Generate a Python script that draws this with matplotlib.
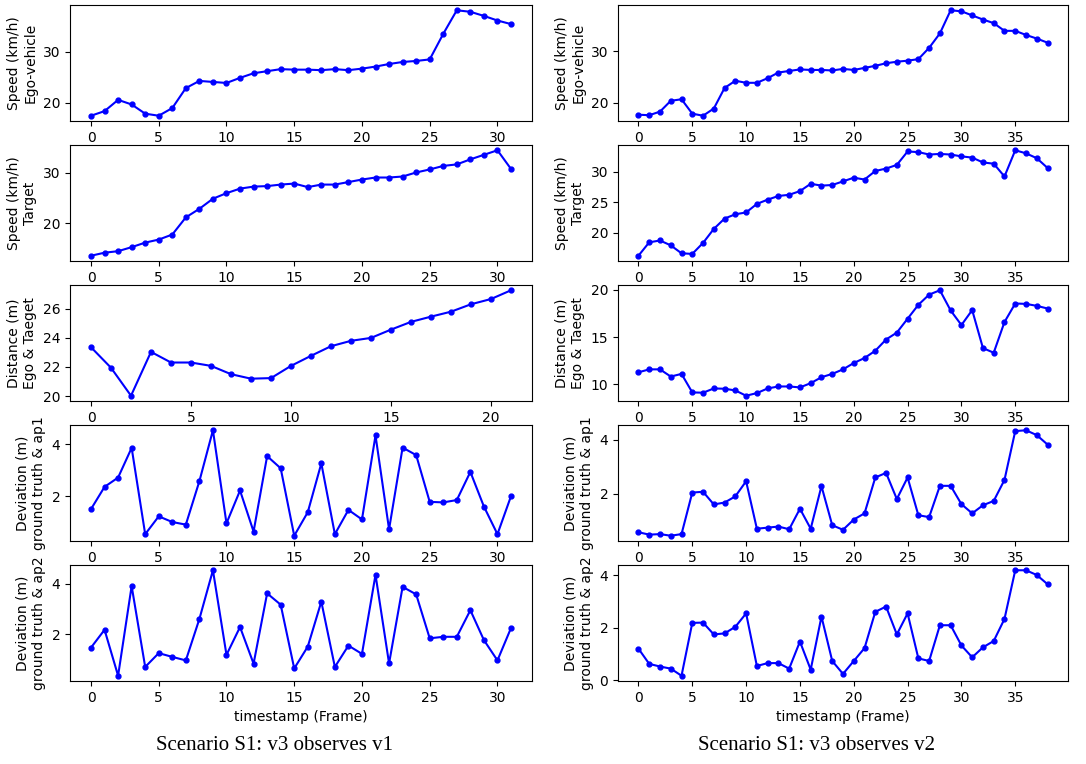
import numpy as np
import matplotlib
matplotlib.use('Agg')
import matplotlib.pyplot as plt

# ---- scenario v1 (left column) ----
v1_ego_speed = [17.5, 18.4, 20.6, 19.7, 17.9, 17.5, 19.0, 22.9, 24.3, 24.1, 23.9, 24.9,
                25.8, 26.2, 26.6, 26.5, 26.5, 26.4, 26.6, 26.4, 26.7, 27.1, 27.6, 28.0,
                28.2, 28.5, 33.5, 38.1, 37.8, 37.0, 36.1, 35.4]
v1_target_speed = [13.6, 14.2, 14.5, 15.3, 16.2, 16.8, 17.8, 21.2, 22.9, 24.9, 26.0, 26.9,
                   27.3, 27.4, 27.7, 27.9, 27.2, 27.7, 27.7, 28.2, 28.7, 29.1, 29.1, 29.3,
                   30.1, 30.7, 31.4, 31.7, 32.7, 33.6, 34.5, 30.8]
v1_distance = [23.35, 21.94, 20.02, 23.03, 22.3, 22.3, 22.07, 21.5, 21.19, 21.23, 22.07,
               22.76, 23.42, 23.79, 23.99, 24.56, 25.09, 25.45, 25.79, 26.3, 26.66, 27.26]
v1_dev_ap1 = [1.5, 2.36, 2.72, 3.87, 0.53, 1.22, 1.0, 0.9, 2.58, 4.55, 0.95, 2.22, 0.63,
              3.55, 3.08, 0.47, 1.38, 3.27, 0.53, 1.47, 1.1, 4.35, 0.72, 3.88, 3.59, 1.78,
              1.76, 1.85, 2.94, 1.6, 0.53, 2.0]
v1_dev_ap2 = [1.46, 2.17, 0.34, 3.91, 0.69, 1.24, 1.09, 0.95, 2.6, 4.54, 1.17, 2.28, 0.82,
              3.62, 3.17, 0.63, 1.5, 3.29, 0.69, 1.54, 1.21, 4.36, 0.83, 3.88, 3.58, 1.83,
              1.89, 1.89, 2.95, 1.76, 0.95, 2.24]

# ---- scenario v2 (right column) ----
v2_ego_speed = [17.7, 17.6, 18.3, 20.4, 20.7, 17.9, 17.5, 18.9, 22.9, 24.3, 23.9, 23.9,
                24.8, 25.9, 26.2, 26.5, 26.4, 26.4, 26.3, 26.6, 26.4, 26.8, 27.2, 27.7,
                28.0, 28.2, 28.5, 30.7, 33.5, 38.0, 37.8, 37.0, 36.2, 35.5, 34.0, 34.0,
                33.2, 32.5, 31.7]
v2_target_speed = [16.2, 18.4, 18.7, 17.9, 16.6, 16.5, 18.3, 20.6, 22.3, 23.0, 23.3, 24.7,
                   25.4, 26.0, 26.2, 26.8, 28.0, 27.7, 27.8, 28.4, 29.0, 28.7, 30.1, 30.5,
                   31.1, 33.3, 33.2, 32.8, 32.9, 32.8, 32.5, 32.3, 31.5, 31.3, 29.2, 33.5,
                   33.0, 32.2, 30.6]
v2_distance = [11.29, 11.6, 11.6, 10.84, 11.12, 9.16, 9.13, 9.58, 9.55, 9.37, 8.81, 9.09,
               9.58, 9.79, 9.79, 9.69, 10.14, 10.77, 11.12, 11.6, 12.27, 12.8, 13.57, 14.76,
               15.49, 16.96, 18.43, 19.51, 19.97, 17.83, 16.29, 17.87, 13.85, 13.36, 16.61,
               18.57, 18.53, 18.32, 18.04]
v2_dev_ap1 = [0.57, 0.48, 0.5, 0.44, 0.5, 2.04, 2.07, 1.6, 1.67, 1.9, 2.46, 0.7, 0.74,
              0.78, 0.68, 1.44, 0.7, 2.28, 0.83, 0.66, 1.04, 1.27, 2.6, 2.77, 1.8, 2.6, 1.2,
              1.13, 2.29, 2.29, 1.61, 1.27, 1.57, 1.73, 2.51, 4.32, 4.35, 4.17, 3.82]
v2_dev_ap2 = [1.21, 0.63, 0.53, 0.45, 0.18, 2.19, 2.2, 1.75, 1.79, 2.04, 2.55, 0.55, 0.66,
              0.66, 0.45, 1.48, 0.41, 2.43, 0.74, 0.25, 0.74, 1.23, 2.61, 2.81, 1.75, 2.55,
              0.84, 0.74, 2.1, 2.1, 1.33, 0.88, 1.26, 1.5, 2.34, 4.19, 4.19, 4.01, 3.66]

ylabels = ['Speed (km/h)\nEgo-vehicle', 'Speed (km/h)\nTarget', 'Distance (m)\nEgo & Taeget',
           'Deviation (m)\nground truth & ap1', 'Deviation (m)\nground truth & ap2']
captions = ['Scenario S1: v3 observes v1', 'Scenario S1: v3 observes v2']

columns = [
    [v1_ego_speed, v1_target_speed, v1_distance, v1_dev_ap1, v1_dev_ap2],
    [v2_ego_speed, v2_target_speed, v2_distance, v2_dev_ap1, v2_dev_ap2],
]

W, H = 1086, 764
fig = plt.figure(figsize=(W / 100, H / 100), dpi=100)

col_left = [70, 618]
col_right = [532, 1068]
caption_x = [275, 816]
row_h = 116

for c, series in enumerate(columns):
    for r, y in enumerate(series):
        top = 5 + 140 * r
        rect = [col_left[c] / W, 1 - (top + row_h) / H,
                (col_right[c] - col_left[c]) / W, row_h / H]
        ax = fig.add_axes(rect)
        x = np.arange(len(y))
        ax.plot(x, y, '.-', color='blue', markersize=7, linewidth=1.5)
        ax.set_ylabel(ylabels[r])
        if r == len(series) - 1:
            ax.set_xlabel('timestamp (Frame)')
    fig.text(caption_x[c] / W, 1 - 745 / H, captions[c], ha='center', va='center',
             fontsize=15, family='Liberation Serif')

plt.savefig('out.png', dpi=100)
